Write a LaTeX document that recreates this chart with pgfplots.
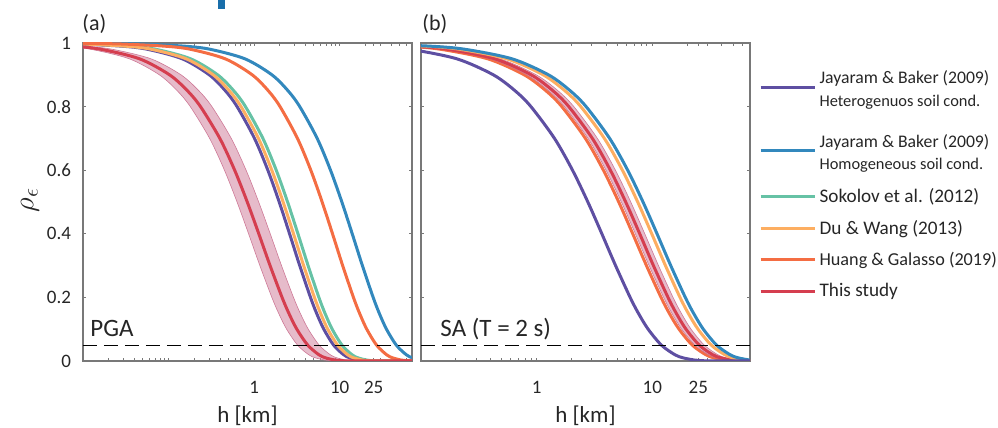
\documentclass[border=0pt]{standalone}
\usepackage{pgfplots}
\pgfplotsset{compat=1.18}
\usepackage{pgfplotstable}
\usepackage{fontspec}
\setmainfont{Carlito}

\definecolor{jbhet}{HTML}{5E4FA2}
\definecolor{jbhom}{HTML}{3288BD}
\definecolor{sok}{HTML}{66C2A5}
\definecolor{duw}{HTML}{FDAE61}
\definecolor{hg}{HTML}{F46D43}
\definecolor{study}{HTML}{D53E4F}
\definecolor{band}{RGB}{205,120,150}
\definecolor{frame}{RGB}{120,120,120}
\definecolor{txt}{RGB}{38,38,38}
\definecolor{stray}{RGB}{25,110,170}

% each row: a correlation level and the separation h [km] where each model reaches it
\pgfplotstableread{
rho    jbhet   jbhom   sok     du      hg      study    lo       hi
0.9995 0.00142 0.00765 0.00178 0.00158 0.0045  0.000269 0.000204 0.000366
0.999  0.00283 0.0153  0.00355 0.00315 0.009   0.000581 0.000442 0.000791
0.997  0.0085  0.0459  0.01065 0.00945 0.027   0.001973 0.001499 0.002683
0.99   0.02848 0.1538  0.03568 0.03166 0.09045 0.007538 0.005729 0.010251
0.98   0.05723 0.3091  0.07171 0.06363 0.1818  0.016375 0.012445 0.02227
0.95   0.1453  0.7849  0.1821  0.1616  0.4617  0.0461   0.035036 0.0627
0.9    0.2986  1.6126  0.3742  0.3320  0.9486  0.1026   0.078    0.13957
0.85   0.4604  2.4863  0.5769  0.5119  1.4625  0.166    0.12616  0.22576
0.8    0.6321  3.4134  0.7920  0.7028  2.0079  0.2361   0.17946  0.32113
0.7    1.0106  5.4575  1.2663  1.1236  3.2103  0.3975   0.3021   0.5406
0.6    1.4473  7.8152  1.8133  1.6090  4.5972  0.5924   0.4502   0.8056
0.5    1.9638  10.604  2.4605  2.1833  6.2379  0.8314   0.6318   1.1307
0.4    2.5962  14.019  3.2529  2.8863  8.2467  1.1344   0.8621   1.5428
0.3    3.411   18.421  4.2742  3.7926  10.836  1.5363   1.1676   2.0893
0.2    4.559   24.618  5.712   5.068   14.481  2.1213   1.6122   2.8849
0.15   5.375   29.026  6.734   5.976   17.073  2.5463   1.9352   3.4629
0.1    6.525   35.236  8.176   7.254   20.727  3.1575   2.3997   4.2942
0.05   8.489   45.839  10.636  9.437   26.964  4.23     3.2148   5.7528
0.02   11.084  59.854  13.888  12.323  35.208  5.69     4.3244   7.7384
0.01   13.048  70.46   16.348  14.506  41.445  6.821    5.1842   9.2769
0.003  16.459  88.88   20.622  18.298  52.281  8.829    6.7099   12.007
0.001  19.573  105.69  24.523  21.760  62.172  10.703   8.1339   14.555
0.0002 24.13   130.31  30.235  26.829  76.653  13.5     10.26    18.36
0      300     300     300     300     300     300      300      300
}\pga

\pgfplotstableread{
rho    jbhet   jbhom   du      hg      study    lo       hi
0.9995 0.002   0.006   0.0054  0.0037  0.00425  0.0039   0.0047
0.999  0.004   0.012   0.0108  0.0074  0.0085   0.0078   0.0094
0.997  0.012   0.036   0.0324  0.0222  0.0255   0.0234   0.0282
0.99   0.0402  0.1206  0.10854 0.07437 0.08543  0.07839  0.09447
0.98   0.0808  0.2424  0.21816 0.14948 0.1717   0.15756  0.18988
0.95   0.2052  0.6156  0.55404 0.37962 0.43605  0.40014  0.48222
0.9    0.4216  1.2648  1.1383  0.77996 0.8959   0.82212  0.99076
0.85   0.65    1.95    1.755   1.2025  1.3813   1.2675   1.5275
0.8    0.8924  2.6772  2.4095  1.6509  1.8964   1.7402   2.0971
0.7    1.4268  4.2804  3.8524  2.6396  3.032    2.7823   3.353
0.6    2.0432  6.1296  5.5166  3.7799  4.3418   3.9842   4.8015
0.5    2.7724  8.3172  7.4855  5.1289  5.8914   5.4062   6.5151
0.4    3.6652  10.996  9.896   6.7806  7.7886   7.1471   8.6132
0.3    4.816   14.448  13.003  8.9096  10.234   9.3912   11.318
0.2    6.436   19.308  17.377  11.907  13.677   12.55    15.125
0.15   7.588   22.764  20.488  14.038  16.125   14.797   17.832
0.1    9.212   27.636  24.872  17.042  19.576   17.963   21.648
0.05   11.984  35.952  32.357  22.17   25.466   23.369   28.162
0.02   15.648  46.944  42.25   28.949  33.252   30.514   36.773
0.01   18.42   55.26   49.734  34.077  39.143   35.919   43.287
0.003  23.236  69.708  62.737  42.987  49.377   45.31    54.605
0.001  27.632  82.896  74.606  51.119  58.718   53.882   64.935
0.0002 34.068  102.2   91.98   63.03   72.39    66.43    80.06
0      300     300     300     300     300      300      300
}\sa

\newcommand{\subl}[1]{\makebox[0pt][l]{\raisebox{-11.3pt}[0pt][0pt]{\fontsize{8.2}{10}\selectfont #1}}}
\newcommand{\sta}{\rule[-2.6pt]{0pt}{8.4pt}}
\newcommand{\stb}{\rule[-2.5pt]{0pt}{8.64pt}}

% one legend row, hosted by an invisible axis: #1 y of the text centre, #2 colour,
% #3 text, #4 drop of the line below the text centre, #5 font size
\newcommand{\legrow}[5]{%
  \begin{axis}[hide axis, scale only axis, width=20pt, height=20pt,
      xmin=0, xmax=1, ymin=0, ymax=1, at={(338pt,#1)},
      legend cell align=left,
      legend style={at={(0,0)}, anchor=west, draw=none, fill=none,
        inner sep=0pt, outer sep=0pt, cells={anchor=west},
        nodes={inner sep=0pt, text=txt}, font=\fontsize{#5}{12}\selectfont,
        /tikz/every odd column/.append style={column sep=1.8pt}},
      legend image code/.code={\path (0pt,#4); \draw[##1] (0pt,-#4) -- (27pt,-#4);},
    ]
    \addlegendimage{#2, line width=1.5pt}
    \addlegendentry{#3}
  \end{axis}}

\tikzset{
  curve/.style={line width=1.5pt, smooth},
  edge/.style={draw=band, line width=0.3pt, smooth},
  shade/.style={fill=band, fill opacity=0.5, draw=none, smooth},
  thresh/.style={black, line width=0.5pt, dash pattern=on 7pt off 3.5pt},
  tag/.style={anchor=base west, inner sep=0pt, text=txt},
}

\begin{document}
\begin{tikzpicture}
\path[use as bounding box] (-41.5pt,-33.5pt) rectangle (457.5pt,180.5pt);
\fill[stray] (67.5pt,176pt) rectangle (71pt,180.5pt);

\begin{axis}[
    xmode=log, scale only axis, width=164.5pt, height=159pt,
    xmin=0.01, xmax=70, ymin=0, ymax=1,
    xtick={1,10,25}, xticklabels={1,10,25},
    minor xtick={0.02,0.03,0.04,0.05,0.06,0.07,0.08,0.09,0.1,0.2,0.3,0.4,0.5,0.6,0.7,0.8,0.9,2,3,4,5,6,7,8,9,20,30,40,50,60,70},
    ytick={0,0.2,0.4,0.6,0.8,1},
    yticklabels={0,0.2,0.4,0.6,0.8,1},
    axis line style={frame, line width=0.6pt},
    tick style={frame, line width=0.5pt},
    major tick length=1.6pt, minor tick length=1.6pt,
    tick label style={font=\fontsize{9.5}{11}\selectfont, text=txt},
    xticklabel style={yshift=-6.5pt},
    yticklabel style={xshift=-2.5pt},
    xlabel={h [km]},
    every axis x label/.style={at={(axis description cs:0.5,-0.173)}, anchor=center,
      font=\fontsize{11.5}{13}\selectfont, text=txt},
    ylabel={$\rho_\epsilon$},
    every axis y label/.style={at={(axis description cs:-0.161,0.506)}, rotate=90, anchor=center,
      font=\fontsize{15}{17}\selectfont, text=txt},
    clip mode=individual,
  ]
  \addplot[curve, jbhet] table[x=jbhet, y=rho] {\pga};
  \addplot[curve, jbhom] table[x=jbhom, y=rho] {\pga};
  \addplot[curve, sok]   table[x=sok,   y=rho] {\pga};
  \addplot[curve, duw]   table[x=du,    y=rho] {\pga};
  \addplot[curve, hg]    table[x=hg,    y=rho] {\pga};
  % band: lower edge going down, upper edge coming back
  \addplot[shade] coordinates {
    (0.000204,0.9995) (0.000442,0.999) (0.001499,0.997) (0.005729,0.99) (0.012445,0.98)
    (0.035036,0.95) (0.078,0.9) (0.12616,0.85) (0.17946,0.8) (0.3021,0.7) (0.4502,0.6)
    (0.6318,0.5) (0.8621,0.4) (1.1676,0.3) (1.6122,0.2) (1.9352,0.15) (2.3997,0.1)
    (3.2148,0.05) (4.3244,0.02) (5.1842,0.01) (6.7099,0.003) (8.1339,0.001) (10.26,0.0002)
    (18.36,0.0002) (14.555,0.001) (12.007,0.003) (9.2769,0.01) (7.7384,0.02) (5.7528,0.05)
    (4.2942,0.1) (3.4629,0.15) (2.8849,0.2) (2.0893,0.3) (1.5428,0.4) (1.1307,0.5)
    (0.8056,0.6) (0.5406,0.7) (0.32113,0.8) (0.22576,0.85) (0.13957,0.9) (0.0627,0.95)
    (0.02227,0.98) (0.010251,0.99) (0.002683,0.997) (0.000791,0.999) (0.000366,0.9995)
  };
  \addplot[edge] table[x=lo, y=rho] {\pga};
  \addplot[edge] table[x=hi, y=rho] {\pga};
  \addplot[curve, study] table[x=study, y=rho] {\pga};
  \addplot[thresh] coordinates {(0.01,0.05) (70,0.05)};

  \node[tag, font=\fontsize{11}{13}\selectfont] at (axis description cs:-0.003,1.04) {(a)};
  \node[tag, font=\fontsize{12.5}{15}\selectfont] at (axis description cs:0.0213,0.0786) {PGA};
\end{axis}

\begin{axis}[at={(169pt,0pt)},
    xmode=log, scale only axis, width=164.5pt, height=159pt,
    xmin=0.1, xmax=70, ymin=0, ymax=1,
    xtick={1,10,25}, xticklabels={1,10,25},
    minor xtick={0.2,0.3,0.4,0.5,0.6,0.7,0.8,0.9,2,3,4,5,6,7,8,9,20,30,40,50,60,70},
    ytick={0,0.2,0.4,0.6,0.8,1},
    yticklabels={},
    axis line style={frame, line width=0.6pt},
    tick style={frame, line width=0.5pt},
    major tick length=1.6pt, minor tick length=1.6pt,
    tick label style={font=\fontsize{9.5}{11}\selectfont, text=txt},
    xticklabel style={yshift=-6.5pt},
    xlabel={h [km]},
    every axis x label/.style={at={(axis description cs:0.5,-0.173)}, anchor=center,
      font=\fontsize{11.5}{13}\selectfont, text=txt},
    clip mode=individual,
  ]
  \addplot[curve, hg]    table[x=hg,    y=rho] {\sa};
  \addplot[shade] coordinates {
    (0.0039,0.9995) (0.0078,0.999) (0.0234,0.997) (0.07839,0.99) (0.15756,0.98)
    (0.40014,0.95) (0.82212,0.9) (1.2675,0.85) (1.7402,0.8) (2.7823,0.7) (3.9842,0.6)
    (5.4062,0.5) (7.1471,0.4) (9.3912,0.3) (12.55,0.2) (14.797,0.15) (17.963,0.1)
    (23.369,0.05) (30.514,0.02) (35.919,0.01) (45.31,0.003) (53.882,0.001) (66.43,0.0002)
    (80.06,0.0002) (64.935,0.001) (54.605,0.003) (43.287,0.01) (36.773,0.02) (28.162,0.05)
    (21.648,0.1) (17.832,0.15) (15.125,0.2) (11.318,0.3) (8.6132,0.4) (6.5151,0.5)
    (4.8015,0.6) (3.353,0.7) (2.0971,0.8) (1.5275,0.85) (0.99076,0.9) (0.48222,0.95)
    (0.18988,0.98) (0.09447,0.99) (0.0282,0.997) (0.0094,0.999) (0.0047,0.9995)
  };
  \addplot[edge] table[x=lo, y=rho] {\sa};
  \addplot[edge] table[x=hi, y=rho] {\sa};
  \addplot[curve, study] table[x=study, y=rho] {\sa};
  \addplot[curve, duw]   table[x=du,    y=rho] {\sa};
  \addplot[curve, jbhom] table[x=jbhom, y=rho] {\sa};
  \addplot[curve, jbhet] table[x=jbhet, y=rho] {\sa};
  \addplot[thresh] coordinates {(0.1,0.05) (70,0.05)};

  \node[tag, font=\fontsize{11}{13}\selectfont] at (axis description cs:0.003,1.04) {(b)};
  \node[tag, font=\fontsize{12.5}{15}\selectfont] at (axis description cs:0.058,0.0786) {SA (T = 2 s)};
\end{axis}

% legend
\legrow{141pt}{jbhet}{\subl{Heterogenuos soil cond.}\sta Jayaram \& Baker (2009)}{4.5pt}{8.85}
\legrow{109.35pt}{jbhom}{\subl{Homogeneous soil cond.}\sta Jayaram \& Baker (2009)}{4.3pt}{8.85}
\legrow{82pt}{sok}{\stb Sokolov et al. (2012)}{0pt}{9.6}
\legrow{66pt}{duw}{\stb Du \& Wang (2013)}{0pt}{9.6}
\legrow{50.5pt}{hg}{\stb Huang \& Galasso (2019)}{0pt}{9.1}
\legrow{34.65pt}{study}{\stb This study}{0pt}{9.6}
\end{tikzpicture}
\end{document}
